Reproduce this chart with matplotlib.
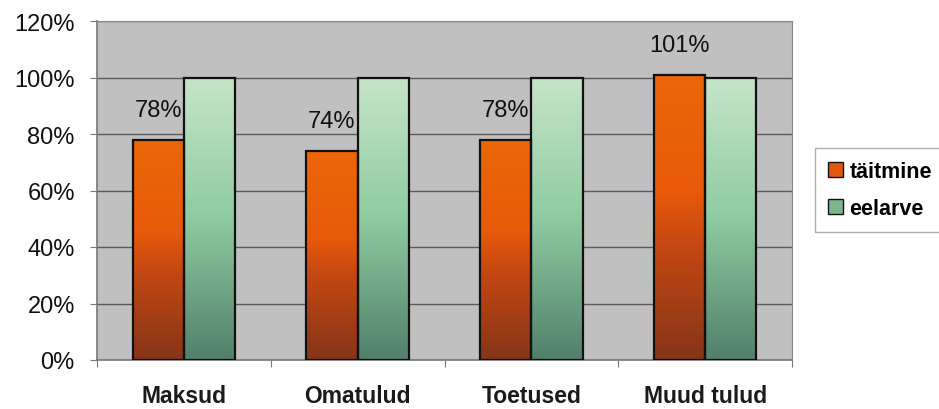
import numpy as np
import matplotlib.pyplot as plt
from matplotlib.colors import LinearSegmentedColormap
from matplotlib.patches import Rectangle

categories = ["Maksud", "Omatulud", "Toetused", "Muud tulud"]
taitmine = [78, 74, 78, 101]
eelarve = [100, 100, 100, 100]
labels = ["78%", "74%", "78%", "101%"]
series_names = ["täitmine", "eelarve"]

plt.rcParams['font.family'] = ['Liberation Sans', 'DejaVu Sans']

orange_cm = LinearSegmentedColormap.from_list(
    "or", [(0, "#863419"), (0.4, "#C44812"), (0.58, "#E8590A"), (1, "#EC6708")])
green_cm = LinearSegmentedColormap.from_list(
    "gr", [(0, "#52806A"), (0.5, "#8ECBA0"), (1, "#C6E5C8")])

fig = plt.figure(figsize=(9.39, 4.10), dpi=100)
ax = fig.add_axes([97 / 939, 1 - 361 / 410, 695 / 939, 339 / 410])
ax.set_facecolor("#C0C0C0")

x = np.arange(len(categories))
w = 0.295
grad = np.linspace(0, 1, 256).reshape(-1, 1)


def grad_bar(xc, h, cmap):
    x0 = xc - w / 2
    ax.imshow(grad, cmap=cmap, origin="lower", aspect="auto",
              extent=(x0, x0 + w, 0, h), zorder=2, interpolation="bilinear")
    ax.add_patch(Rectangle((x0, 0), w, h, fill=False, edgecolor="#111111",
                           linewidth=1.6, zorder=3))


for i in range(len(categories)):
    grad_bar(x[i] - w / 2, taitmine[i], orange_cm)
    grad_bar(x[i] + w / 2, eelarve[i], green_cm)
    ax.text(x[i] - w / 2, taitmine[i] + 10.5, labels[i], ha="center",
            va="center", fontsize=17, color="#111111")

ax.set_xlim(-0.5, len(categories) - 0.5)
ax.set_ylim(0, 120)
ax.set_yticks(range(0, 121, 20))
ax.set_yticklabels([f"{v}%" for v in range(0, 121, 20)], fontsize=17,
                   color="#111111")
ax.yaxis.grid(True, color="#5a5a5a", linewidth=1.0)
ax.set_axisbelow(True)

ax.set_xticks(np.arange(-0.5, len(categories), 1.0))
ax.set_xticklabels([])
ax.set_xticks(x, minor=True)
ax.set_xticklabels(categories, minor=True, fontsize=16.5, fontweight="bold",
                   color="#1a1a1a")
ax.tick_params(axis="x", which="minor", length=0, pad=17)
ax.tick_params(axis="x", which="major", length=5, color="#777777")
ax.tick_params(axis="y", length=5, color="#777777", pad=11)

for side in ["top", "right"]:
    ax.spines[side].set_color("#888888")
for side in ["left", "bottom"]:
    ax.spines[side].set_color("#777777")
    ax.spines[side].set_linewidth(1.2)

handles = [Rectangle((0, 0), 1, 1, facecolor="#E0580C", edgecolor="#111111"),
           Rectangle((0, 0), 1, 1, facecolor="#7DB58F", edgecolor="#111111")]
leg = fig.legend(handles, series_names, loc="upper left",
                 bbox_to_anchor=(815 / 939, 1 - 149 / 410), borderaxespad=0,
                 frameon=True, fancybox=False, edgecolor="#999999",
                 handlelength=0.7, handleheight=0.7, handletextpad=0.3,
                 borderpad=0.6, labelspacing=0.75,
                 prop={"weight": "bold", "size": 15.5})
leg.get_frame().set_linewidth(1.0)

fig.savefig("out.png", dpi=100)
